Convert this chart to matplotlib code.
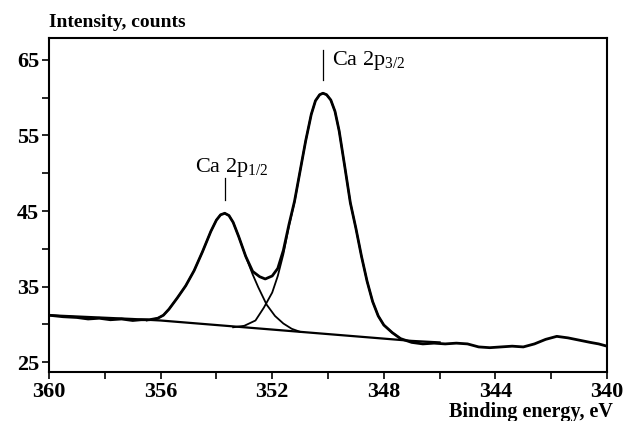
import numpy as np
import matplotlib.pyplot as plt
from matplotlib.ticker import MultipleLocator

plt.rcParams['font.family'] = ['Liberation Serif', 'DejaVu Serif']
plt.rcParams['mathtext.fontset'] = 'custom'
plt.rcParams['mathtext.rm'] = 'Liberation Serif'
plt.rcParams['mathtext.it'] = 'Liberation Serif'
plt.rcParams['mathtext.bf'] = 'Liberation Serif:bold'

# measured spectrum (binding energy, counts)
e_meas = [360.0, 359.5, 359.0, 358.6, 358.2, 357.8, 357.4, 357.0, 356.7, 356.4,
          356.1, 355.9, 355.7, 355.4, 355.1, 354.8, 354.5, 354.2, 354.0, 353.85,
          353.7, 353.55, 353.4, 353.2, 352.95, 352.7, 352.45, 352.25, 352.0, 351.8,
          351.6, 351.4, 351.2, 351.0, 350.8, 350.6, 350.45, 350.3, 350.18, 350.05,
          349.9, 349.75, 349.6, 349.4, 349.2, 349.0, 348.8, 348.6, 348.4, 348.2,
          348.0, 347.7, 347.4, 347.0, 346.6, 346.2, 345.8, 345.4, 345.0, 344.6,
          344.2, 343.8, 343.4, 343.0, 342.6, 342.2, 341.8, 341.4, 341.0, 340.6,
          340.3, 340.0]
i_meas = [31.2, 31.0, 30.9, 30.7, 30.8, 30.6, 30.7, 30.5, 30.6, 30.6,
          30.8, 31.2, 32.0, 33.5, 35.1, 37.1, 39.6, 42.3, 43.8, 44.5,
          44.7, 44.4, 43.5, 41.6, 39.0, 37.0, 36.3, 36.0, 36.4, 37.4,
          39.8, 43.2, 46.3, 50.3, 54.3, 57.8, 59.6, 60.4, 60.6, 60.4,
          59.7, 58.2, 55.6, 50.9, 46.1, 42.7, 39.0, 35.7, 33.0, 31.1,
          29.9, 28.9, 28.1, 27.6, 27.4, 27.5, 27.4, 27.5, 27.4, 27.0,
          26.9, 27.0, 27.1, 27.0, 27.4, 28.0, 28.4, 28.2, 27.9, 27.6,
          27.4, 27.1]

# background
e_bg = [360.0, 357.0, 356.0, 355.0, 354.0, 353.0, 352.0, 351.0, 350.0, 349.0,
        348.0, 347.0, 346.0]
i_bg = [31.2, 30.7, 30.5, 30.2, 29.9, 29.6, 29.3, 29.0, 28.7, 28.4,
        28.1, 27.8, 27.6]

# Ca 2p1/2 component
e_p12 = [356.5, 356.1, 355.9, 355.7, 355.4, 355.1, 354.8, 354.5, 354.2, 354.0,
         353.85, 353.7, 353.55, 353.4, 353.2, 352.95, 352.7, 352.5, 352.2, 351.9,
         351.6, 351.3, 351.0]
i_p12 = [30.5, 30.8, 31.2, 32.0, 33.5, 35.1, 37.1, 39.6, 42.3, 43.8,
         44.5, 44.7, 44.4, 43.5, 41.6, 39.0, 36.6, 34.9, 32.6, 31.1,
         30.1, 29.4, 29.0]

# Ca 2p3/2 component
e_p32 = [353.4, 353.0, 352.6, 352.3, 352.0, 351.8, 351.6, 351.4, 351.2, 351.0,
         350.8, 350.6, 350.45, 350.3, 350.18, 350.05, 349.9, 349.75, 349.6, 349.4,
         349.2, 349.0, 348.8, 348.6, 348.4, 348.2, 348.0, 347.7, 347.4]
i_p32 = [29.6, 29.8, 30.5, 32.2, 34.2, 36.4, 39.3, 43.0, 46.2, 50.3,
         54.3, 57.8, 59.6, 60.4, 60.6, 60.4, 59.7, 58.2, 55.6, 50.9,
         46.1, 42.7, 39.0, 35.7, 33.0, 31.1, 29.9, 28.9, 28.1]

x_ticks = [360, 356, 352, 348, 344, 340]
y_ticks = [25, 35, 45, 55, 65]

fig = plt.figure(figsize=(6.3, 4.21), dpi=100)
ax = fig.add_axes([0.0778, 0.1164, 0.8857, 0.7933])

ax.plot(e_bg, i_bg, color='black', lw=1.6)
ax.plot(e_p12, i_p12, color='black', lw=1.3)
ax.plot(e_p32, i_p32, color='black', lw=1.3)
ax.plot(e_meas, i_meas, color='black', lw=2.0)

# peak markers
ax.plot([353.69, 353.69], [46.5, 49.4], color='black', lw=0.9)
ax.plot([350.18, 350.18], [62.4, 66.3], color='black', lw=0.9)
ax.text(354.77, 50.2, 'Ca 2p$_{1/2}$', fontsize=16, ha='left', va='baseline')
ax.text(349.86, 64.3, 'Ca 2p$_{3/2}$', fontsize=16, ha='left', va='baseline')

ax.set_xlim(360, 340)
ax.set_ylim(23.68, 67.91)
ax.set_xticks(x_ticks)
ax.set_yticks(y_ticks)
ax.xaxis.set_minor_locator(MultipleLocator(2))
ax.yaxis.set_minor_locator(MultipleLocator(5))
ax.tick_params(which='both', direction='out', length=5, width=1.2,
               top=False, right=False, labelsize=16, pad=2)
for lab in ax.get_xticklabels() + ax.get_yticklabels():
    lab.set_fontweight('bold')
for sp in ax.spines.values():
    sp.set_linewidth(1.5)

fig.text(49 / 630, 1 - 27 / 421, 'Intensity, counts', fontsize=14,
         fontweight='bold', ha='left', va='baseline')
fig.text(613 / 630, 1 - 417 / 421, 'Binding energy, eV', fontsize=14.5,
         fontweight='bold', ha='right', va='baseline')

fig.savefig('out.png', dpi=100)
